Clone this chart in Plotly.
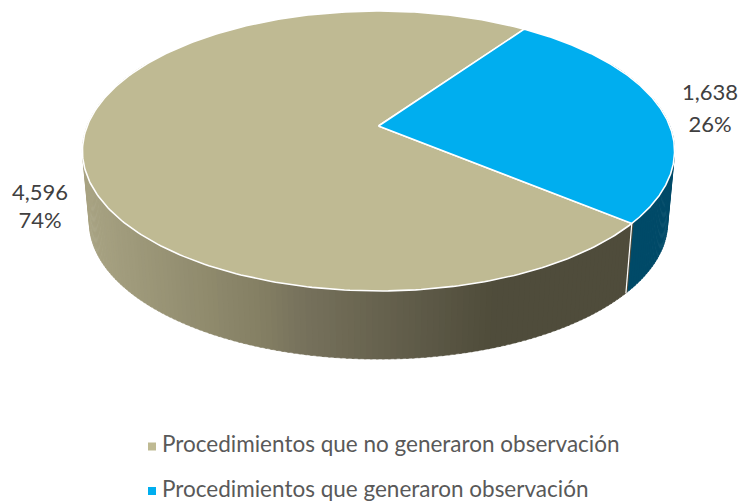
import math
import numpy as np
import plotly.graph_objects as go

categories = ["Procedimientos que no generaron observación", "Procedimientos que generaron observación"]
values = [4596, 1638]
top_colors = ["#BFBA93", "#00AEEF"]
FONT = "Lato"
TEXT = "#595959"

START = 35.0          # clockwise degrees from 12 o'clock where the blue slice starts
K = 0.1786            # perspective strength
TOP = dict(x0=378.5, y0=126.0, A=291.3, B=135.5)
BOT = dict(x0=378.5, y0=198.0, A=284.5, B=132.3)


def project(deg, p):
    t = np.radians(deg)
    u, v = np.sin(t), -np.cos(t)
    d = 1 - K * v
    return p["x0"] + p["A"] * u / d, p["y0"] + p["B"] * v / d


def lerp_stops(x):
    stops = [(88, (168, 163, 131)), (260, (132, 127, 99)), (300, (119, 114, 92)),
             (490, (79, 76, 59)), (740, (79, 76, 59))]
    for (a, ca), (b, cb) in zip(stops, stops[1:]):
        if x <= b:
            f = max(0, (x - a) / (b - a))
            c = [round(ca[i] + (cb[i] - ca[i]) * f) for i in range(3)]
            return "rgb(%d,%d,%d)" % tuple(c)
    return "rgb(79,76,59)"


total = sum(values)
blue_sweep = values[1] / total * 360
blue_a, blue_b = START, START + blue_sweep

fig = go.Figure()

# side wall, built from the slice angles
STEP = 1.0
angles = np.arange(60, 300, STEP)
for a in angles:
    b = a + STEP + 0.4
    xs = [project(a, TOP)[0], project(b, TOP)[0], project(b, BOT)[0], project(a, BOT)[0]]
    ys = [project(a, TOP)[1], project(b, TOP)[1], project(b, BOT)[1], project(a, BOT)[1]]
    col = "#004A68" if a + STEP <= blue_b + 0.01 else lerp_stops(sum(xs) / 4)
    fig.add_trace(go.Scatter(x=xs, y=ys, mode="lines", fill="toself", fillcolor=col,
                             line=dict(color=col, width=0.5), hoverinfo="skip", showlegend=False))

# white seam between the two wall colours
sx0, sy0 = project(blue_b, TOP)
sx1, sy1 = project(blue_b, BOT)
fig.add_trace(go.Scatter(x=[sx0, sx1], y=[sy0, sy1], mode="lines", line=dict(color="white", width=1.2),
                         hoverinfo="skip", showlegend=False))

# top face slices
spans = [(blue_b, START + 360), (blue_a, blue_b)]
for (a0, a1), col in zip(spans, top_colors):
    th = np.linspace(a0, a1, 300)
    rx, ry = project(th, TOP)
    fig.add_trace(go.Scatter(x=[TOP["x0"], *rx, TOP["x0"]], y=[TOP["y0"], *ry, TOP["y0"]],
                             mode="lines", fill="toself", fillcolor=col,
                             line=dict(color="white", width=1.6), hoverinfo="skip", showlegend=False))

# data labels
label_pos = [(40, 194, 222), (710, 94, 126)]
for val, (lx, ly1, ly2) in zip(values, label_pos):
    fig.add_trace(go.Scatter(x=[lx, lx], y=[ly1, ly2], mode="text",
                             text=[f"{val:,}", f"{val / total * 100:.0f}%"],
                             textposition="middle center",
                             textfont=dict(family=FONT, size=22, color="#404040"),
                             hoverinfo="skip", showlegend=False))

# legend
legend_y = [446.5, 491]
for name, col, ly in zip(categories, top_colors, legend_y):
    fig.add_trace(go.Scatter(x=[152], y=[ly], mode="markers",
                             marker=dict(symbol="square", size=8, color=col),
                             hoverinfo="skip", showlegend=False))
    fig.add_trace(go.Scatter(x=[162], y=[ly], mode="text", text=[name],
                             textposition="middle right",
                             textfont=dict(family=FONT, size=22.5, color=TEXT),
                             hoverinfo="skip", showlegend=False))

fig.update_layout(width=739, height=504, margin=dict(l=0, r=0, t=0, b=0), autosize=False,
                  paper_bgcolor="white", plot_bgcolor="white", showlegend=False,
                  xaxis=dict(range=[0, 739], visible=False, fixedrange=True),
                  yaxis=dict(range=[504, 0], visible=False, fixedrange=True))
fig.write_html("out.html", config=dict(displayModeBar=False),
               post_script="document.body.style.margin='0';document.documentElement.style.overflow='hidden';")
